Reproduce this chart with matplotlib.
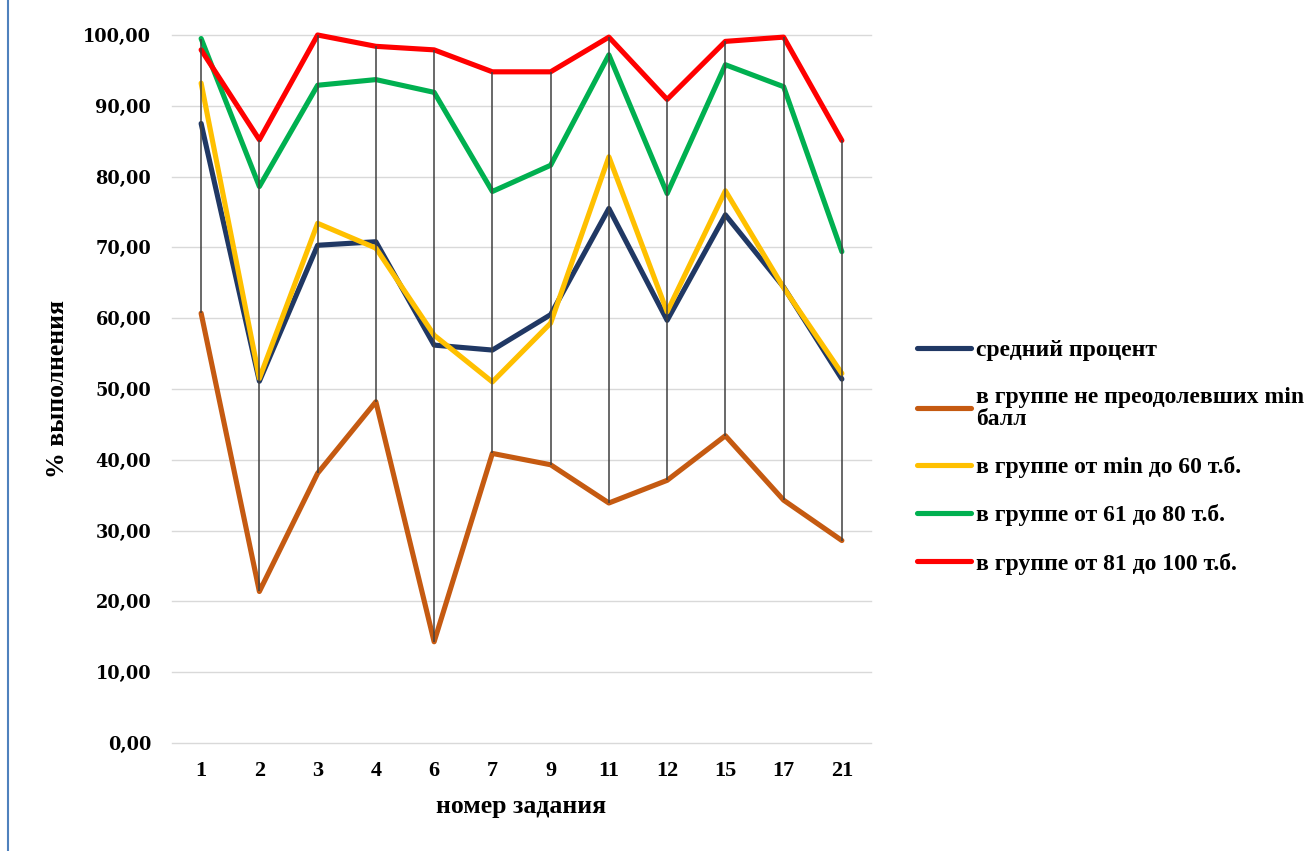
import numpy as np
import matplotlib
matplotlib.use("Agg")
import matplotlib.pyplot as plt
from matplotlib.lines import Line2D

# ---- data ----
tasks = ['1', '2', '3', '4', '6', '7', '9', '11', '12', '15', '17', '21']
avg_pct = [87.5, 51.1, 70.3, 70.8, 56.2, 55.5, 60.5, 75.5, 59.7, 74.6, 64.4, 51.4]
fail_pct = [60.7, 21.4, 38.1, 48.2, 14.3, 40.9, 39.3, 33.9, 37.1, 43.4, 34.3, 28.6]
min60_pct = [93.2, 51.5, 73.4, 69.9, 57.6, 51.0, 59.3, 82.8, 60.9, 78.0, 64.3, 52.2]
g61_80_pct = [99.5, 78.6, 92.9, 93.7, 91.9, 77.9, 81.6, 97.2, 77.6, 95.8, 92.7, 69.4]
g81_100_pct = [97.9, 85.2, 100.0, 98.4, 97.9, 94.8, 94.8, 99.7, 90.9, 99.1, 99.7, 85.1]

series_labels = ['средний процент',
                 'в группе не преодолевших min\nбалл',
                 'в группе от min до 60 т.б.',
                 'в группе от 61 до 80 т.б.',
                 'в группе от 81 до 100 т.б.']
series_colors = ['#203864', '#C55A11', '#FFC000', '#00B050', '#FF0000']
yticks = list(range(0, 101, 10))

W, H = 1312, 851
fig = plt.figure(figsize=(W / 100, H / 100), dpi=100)
ax = fig.add_axes([172 / W, 1 - 743 / H, 699 / W, 708 / H])

x = np.arange(len(tasks))
all_series = [avg_pct, fail_pct, min60_pct, g61_80_pct, g81_100_pct]
for i, (vals, lab, col) in enumerate(zip(all_series, series_labels, series_colors)):
    ax.plot(x, vals, color=col, lw=3.7, label=lab, solid_joinstyle='round',
            solid_capstyle='round', zorder=3 + i, clip_on=False)

arr = np.array(all_series)
ax.vlines(x, arr.min(axis=0), arr.max(axis=0), color='#404040', lw=1.1, zorder=10)

ax.set_xlim(-0.5, len(tasks) - 0.5)
ax.set_ylim(0, 100)
ax.set_xticks(x)
ax.set_xticklabels(tasks, fontfamily='Liberation Serif', fontweight='bold', fontsize=16)
ax.set_yticks(yticks)
ax.set_yticklabels([f"{v:.2f}".replace('.', ',') for v in yticks],
                   fontfamily='DejaVu Serif', fontweight='bold', fontsize=12.8)
ax.tick_params(axis='both', length=0)
ax.tick_params(axis='y', pad=15)
ax.tick_params(axis='x', pad=13)
ax.yaxis.grid(True, color='#d9d9d9', lw=1.0)
for gl in ax.get_ygridlines():
    gl.set_clip_on(False)
ax.set_axisbelow(True)
for s in ax.spines.values():
    s.set_visible(False)

ax.set_xlabel('номер задания', fontfamily='Liberation Serif', fontweight='bold',
              fontsize=18.5, labelpad=10)
ax.set_ylabel('% выполнения', fontfamily='Liberation Serif', fontweight='bold',
              fontsize=18.5, labelpad=10)

leg = fig.legend(loc='center left', bbox_to_anchor=(917 / W, 1 - 457 / H),
                 frameon=False, borderpad=0, borderaxespad=0,
                 prop={'family': 'Liberation Serif', 'weight': 'bold', 'size': 17},
                 handlelength=2.3, handletextpad=0.2, labelspacing=1.11)
for t in leg.get_texts():
    t.set_linespacing(1.05)

fig.add_artist(Line2D([8 / W, 8 / W], [0, 1], transform=fig.transFigure,
                      color='#4f81bd', lw=1.5))

fig.savefig('out.png', dpi=100)
